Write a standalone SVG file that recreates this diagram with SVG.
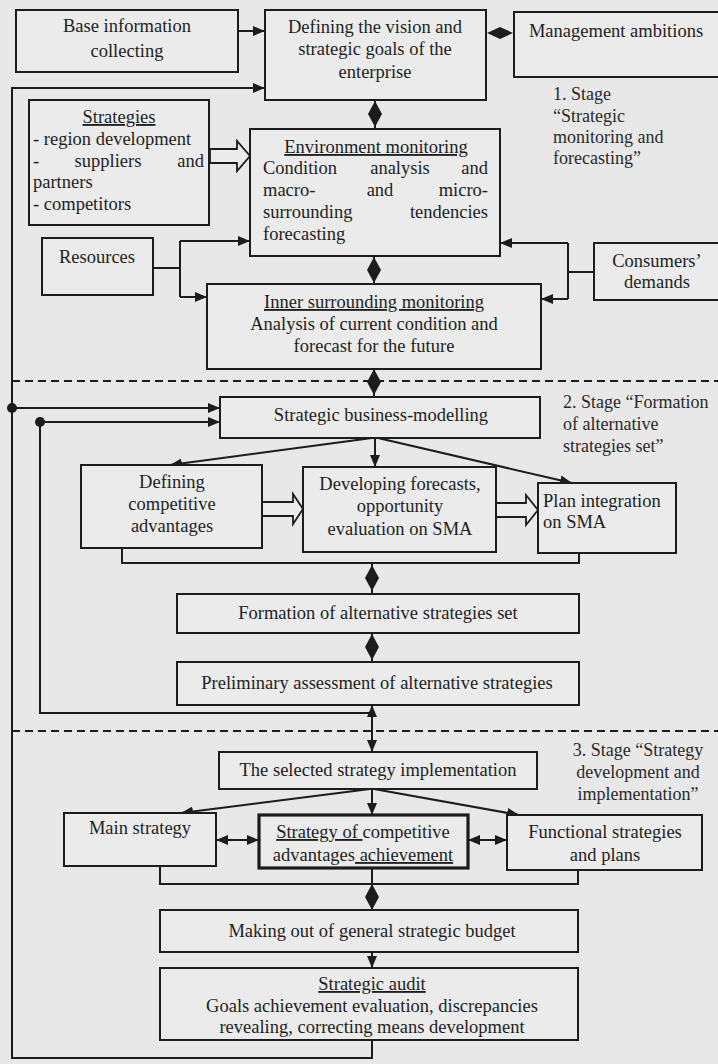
<svg xmlns="http://www.w3.org/2000/svg" width="718" height="1064" viewBox="0 0 718 1064">
<style>
.bg{fill:#e8e8e8}
.box{fill:#ebebeb;stroke:#1c1c1c;stroke-width:2}
.thick{fill:#ebebeb;stroke:#1c1c1c;stroke-width:3.2}
.t{font-family:"Liberation Serif","Times New Roman",serif;font-size:18.5px;fill:#1e1e1e}
.s{font-family:"Liberation Serif","Times New Roman",serif;font-size:18px;fill:#2a2a2a}
.m{text-anchor:middle}
.e{text-anchor:end}
.u{text-decoration:underline}
.ln{fill:none;stroke:#1c1c1c;stroke-width:2}
.dash{fill:none;stroke:#1c1c1c;stroke-width:2;stroke-dasharray:8 5}
.dm{fill:#1c1c1c}
.hol{fill:#ebebeb;stroke:#1c1c1c;stroke-width:1.8;stroke-linejoin:miter}
</style>
<defs>
<marker id="ah" viewBox="0 0 12 10" refX="12" refY="5" markerWidth="12" markerHeight="10" markerUnits="userSpaceOnUse" orient="auto-start-reverse"><path d="M0,0 L12,5 L0,10 z" fill="#1c1c1c"/></marker>
<path id="dv" d="M0,-13 L7,0 L0,13 L-7,0 Z"/>
<path id="dh" d="M-13,0 L0,-6 L13,0 L0,6 Z"/>
</defs>
<rect class="bg" x="0" y="0" width="718" height="1064"/>

<g id="connectors">
  <line class="dash" x1="12" y1="381" x2="718" y2="381"/>
  <line class="dash" x1="12" y1="731" x2="718" y2="731"/>
  <line class="ln" x1="238" y1="31" x2="265" y2="31" marker-end="url(#ah)"/>
  <polyline class="ln" points="372,1040 372,1058 12,1058 12,88 265,88" marker-end="url(#ah)"/>
  <circle class="dm" cx="12" cy="408" r="5"/>
  <line class="ln" x1="12" y1="408" x2="220" y2="408" marker-end="url(#ah)"/>
  <polyline class="ln" points="372,713 40,713 40,422 220,422" marker-end="url(#ah)"/>
  <circle class="dm" cx="40" cy="422" r="5"/>
  <use class="dm" href="#dh" x="500" y="33"/>
  <line class="ln" x1="375" y1="100" x2="375" y2="129"/>
  <use class="dm" href="#dv" x="375" y="114"/>
  <polygon class="hol" points="210,149 237,149 237,141 250,156 237,171 237,163 210,163"/>
  <polyline class="ln" points="153,268 180,268"/>
  <polyline class="ln" points="180,241 180,297"/>
  <line class="ln" x1="180" y1="241" x2="250" y2="241" marker-end="url(#ah)"/>
  <line class="ln" x1="180" y1="297" x2="207" y2="297" marker-end="url(#ah)"/>
  <polyline class="ln" points="594,272 568,272"/>
  <polyline class="ln" points="568,243 568,299"/>
  <line class="ln" x1="568" y1="243" x2="500" y2="243" marker-end="url(#ah)"/>
  <line class="ln" x1="568" y1="299" x2="541" y2="299" marker-end="url(#ah)"/>
  <line class="ln" x1="374" y1="256" x2="374" y2="284"/>
  <use class="dm" href="#dv" x="374" y="270"/>
  <line class="ln" x1="374" y1="369" x2="374" y2="397"/>
  <use class="dm" href="#dv" x="374" y="382"/>
  <line class="ln" x1="372" y1="438" x2="170" y2="465" marker-end="url(#ah)"/>
  <line class="ln" x1="375" y1="438" x2="375" y2="467" marker-end="url(#ah)"/>
  <line class="ln" x1="378" y1="438" x2="572" y2="483" marker-end="url(#ah)"/>
  <polygon class="hol" points="262,502 293,502 293,494 303,509 293,524 293,516 262,516"/>
  <polygon class="hol" points="496,503 526,503 526,495 538,510 526,525 526,517 496,517"/>
  <polyline class="ln" points="122,548 122,563 579,563 579,553"/>
  <line class="ln" x1="372" y1="563" x2="372" y2="594"/>
  <use class="dm" href="#dv" x="372" y="578"/>
  <line class="ln" x1="372" y1="633" x2="372" y2="662"/>
  <use class="dm" href="#dv" x="372" y="647"/>
  <line class="ln" x1="372" y1="705" x2="372" y2="752" marker-start="url(#ah)" marker-end="url(#ah)"/>
  <line class="ln" x1="370" y1="789" x2="181" y2="813" marker-end="url(#ah)"/>
  <line class="ln" x1="372" y1="789" x2="372" y2="815" marker-end="url(#ah)"/>
  <line class="ln" x1="374" y1="789" x2="519" y2="815" marker-end="url(#ah)"/>
  <line class="ln" x1="216" y1="840" x2="259" y2="840" marker-start="url(#ah)" marker-end="url(#ah)"/>
  <line class="ln" x1="468" y1="840" x2="507" y2="840" marker-start="url(#ah)" marker-end="url(#ah)"/>
  <polyline class="ln" points="160,866 160,884 578,884 578,870"/>
  <line class="ln" x1="372" y1="868" x2="372" y2="910"/>
  <use class="dm" href="#dv" x="372" y="897"/>
  <line class="ln" x1="372" y1="952" x2="372" y2="968" marker-end="url(#ah)"/>
</g>

<g id="base-info">
  <rect class="box" x="16" y="10" width="222" height="62"/>
  <text class="t m" x="127" y="32">Base information</text>
  <text class="t m" x="127" y="57">collecting</text>
</g>
<g id="vision">
  <rect class="box" x="265" y="10" width="221" height="90"/>
  <text class="t m" x="375" y="33">Defining the vision and</text>
  <text class="t m" x="375" y="55">strategic goals of the</text>
  <text class="t m" x="375" y="78">enterprise</text>
</g>
<g id="management">
  <rect class="box" x="514" y="12" width="214" height="65"/>
  <text class="t m" x="616" y="37">Management ambitions</text>
</g>
<g id="stage1">
  <text class="s" x="553" y="100">1. Stage</text>
  <text class="s" x="553" y="122">“Strategic</text>
  <text class="s" x="553" y="143">monitoring and</text>
  <text class="s" x="553" y="164">forecasting”</text>
</g>
<g id="strategies">
  <rect class="box" x="29" y="100" width="180" height="125"/>
  <text class="t m u" x="119" y="123">Strategies</text>
  <text class="t" x="33" y="145">- region development</text>
  <text class="t" x="33" y="167">-</text>
  <text class="t m" x="108" y="167">suppliers</text>
  <text class="t e" x="204" y="167">and</text>
  <text class="t" x="33" y="188">partners</text>
  <text class="t" x="33" y="210">- competitors</text>
</g>
<g id="environment">
  <rect class="box" x="250" y="129" width="250" height="127"/>
  <text class="t m u" x="376" y="153">Environment monitoring</text>
  <text class="t" x="263" y="174">Condition</text>
  <text class="t m" x="400" y="174">analysis</text>
  <text class="t e" x="488" y="174">and</text>
  <text class="t" x="263" y="196">macro-</text>
  <text class="t m" x="380" y="196">and</text>
  <text class="t e" x="488" y="196">micro-</text>
  <text class="t" x="263" y="218">surrounding</text>
  <text class="t e" x="488" y="218">tendencies</text>
  <text class="t" x="263" y="240">forecasting</text>
</g>
<g id="resources">
  <rect class="box" x="42" y="238" width="111" height="57"/>
  <text class="t m" x="97" y="263">Resources</text>
</g>
<g id="consumers">
  <rect class="box" x="594" y="243" width="134" height="57"/>
  <text class="t m" x="657" y="267">Consumers’</text>
  <text class="t m" x="657" y="288">demands</text>
</g>
<g id="inner">
  <rect class="box" x="207" y="284" width="334" height="85"/>
  <text class="t m u" x="374" y="308">Inner surrounding monitoring</text>
  <text class="t m" x="374" y="330">Analysis of current condition and</text>
  <text class="t m" x="374" y="352">forecast for the future</text>
</g>
<g id="stage2">
  <text class="s" x="563" y="408">2. Stage “Formation</text>
  <text class="s" x="563" y="430">of alternative</text>
  <text class="s" x="563" y="452">strategies set”</text>
</g>
<g id="business-modelling">
  <rect class="box" x="220" y="397" width="320" height="41"/>
  <text class="t m" x="381" y="421">Strategic business-modelling</text>
</g>
<g id="competitive">
  <rect class="box" x="81" y="465" width="181" height="83"/>
  <text class="t m" x="172" y="488">Defining</text>
  <text class="t m" x="172" y="510">competitive</text>
  <text class="t m" x="172" y="532">advantages</text>
</g>
<g id="forecasts">
  <rect class="box" x="303" y="467" width="193" height="85"/>
  <text class="t m" x="400" y="490">Developing forecasts,</text>
  <text class="t m" x="400" y="512">opportunity</text>
  <text class="t m" x="400" y="535">evaluation on SMA</text>
</g>
<g id="plan">
  <rect class="box" x="538" y="483" width="138" height="70"/>
  <text class="t" x="543" y="507">Plan integration</text>
  <text class="t" x="543" y="528">on SMA</text>
</g>
<g id="formation">
  <rect class="box" x="177" y="594" width="402" height="39"/>
  <text class="t m" x="378" y="619">Formation of alternative strategies set</text>
</g>
<g id="preliminary">
  <rect class="box" x="177" y="662" width="402" height="43"/>
  <text class="t m" x="377" y="689">Preliminary assessment of alternative strategies</text>
</g>
<g id="stage3">
  <text class="s m" x="638" y="756">3. Stage “Strategy</text>
  <text class="s m" x="638" y="778">development and</text>
  <text class="s m" x="638" y="800">implementation”</text>
</g>
<g id="selected">
  <rect class="box" x="219" y="752" width="318" height="37"/>
  <text class="t m" x="378" y="776">The selected strategy implementation</text>
</g>
<g id="main-strategy">
  <rect class="box" x="64" y="813" width="152" height="53"/>
  <text class="t m" x="140" y="834">Main strategy</text>
</g>
<g id="competitive-strategy">
  <rect class="thick" x="259" y="815" width="209" height="53"/>
  <text class="t m" x="363" y="838"><tspan class="u">Strategy of </tspan>competitive</text>
  <text class="t m" x="363" y="861">advantages<tspan class="u"> achievement</tspan></text>
</g>
<g id="functional">
  <rect class="box" x="507" y="815" width="195" height="55"/>
  <text class="t m" x="605" y="838">Functional strategies</text>
  <text class="t m" x="605" y="861">and plans</text>
</g>
<g id="budget">
  <rect class="box" x="160" y="910" width="418" height="42"/>
  <text class="t m" x="372" y="937">Making out of general strategic budget</text>
</g>
<g id="audit">
  <rect class="box" x="160" y="968" width="418" height="72"/>
  <text class="t m u" x="372" y="990">Strategic audit</text>
  <text class="t m" x="372" y="1012">Goals achievement evaluation, discrepancies</text>
  <text class="t m" x="372" y="1033">revealing, correcting means development</text>
</g>
</svg>
